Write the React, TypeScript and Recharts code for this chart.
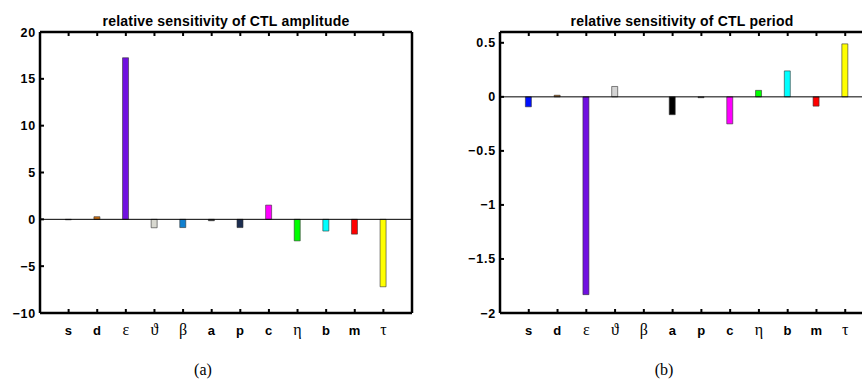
import { BarChart, Bar, XAxis, YAxis, Cell, ReferenceLine } from 'recharts';

const params = ['s', 'd', 'ε', 'ϑ', 'β', 'a', 'p', 'c', 'η', 'b', 'm', 'τ'];
const greek = ['ε', 'ϑ', 'β', 'η', 'τ'];

const amplitude = [-0.05, 0.28, 17.25, -0.9, -0.88, -0.15, -0.88, 1.52, -2.3, -1.25, -1.58, -7.2];
const period = [-0.092, 0.015, -1.83, 0.096, 0, -0.165, -0.008, -0.25, 0.06, 0.24, -0.086, 0.49];

const colorsA = ['#1a1a60', '#d07010', '#7010e0', '#d8d8d0', '#1080d0', '#202020', '#1c2e50', '#ff00ff', '#00ff00', '#00ffff', '#ff0000', '#ffff00'];
const colorsB = ['#0010ff', '#a05a10', '#7010e0', '#d4d4d4', '#1080d0', '#000000', '#404040', '#ff00ff', '#00ff00', '#00ffff', '#ff0000', '#ffff00'];

const ampTicks = [-10, -5, 0, 5, 10, 15, 20];
const perTicks = [-2, -1.5, -1, -0.5, 0, 0.5];

const sans = 'Liberation Sans, Arial, sans-serif';
const serif = 'Liberation Serif, Times New Roman, serif';

const fmt = (v: number) => (v < 0 ? '\u2212' + String(-v) : String(v));

function BottomTick(props: any) {
  const { x, y, payload } = props;
  const g = greek.includes(payload.value);
  return (
    <g>
      <line x1={x} x2={x} y1={y} y2={y - 4} stroke="#000" strokeWidth={2} />
      <text
        x={x}
        y={y + 22}
        textAnchor="middle"
        fontFamily={g ? serif : sans}
        fontWeight={g ? 'normal' : 'bold'}
        fontSize={g ? 16 : 13}
        letterSpacing={g ? 0 : 0.5}
        fill="#000"
      >
        {payload.value}
      </text>
    </g>
  );
}

function TopTick(props: any) {
  const { x, y } = props;
  return <line x1={x} x2={x} y1={y} y2={y + 4} stroke="#000" strokeWidth={2} />;
}

function LeftTick(props: any) {
  const { x, y, payload } = props;
  return (
    <g>
      <line x1={x} x2={x + 4} y1={y} y2={y} stroke="#000" strokeWidth={2} />
      <text x={x - 4} y={y + 4.5} textAnchor="end" fontFamily={sans} fontWeight="bold" fontSize={12.5} letterSpacing={0.8} fill="#000">
        {fmt(payload.value)}
      </text>
    </g>
  );
}

function RightTick(props: any) {
  const { x, y } = props;
  return <line x1={x} x2={x - 4} y1={y} y2={y} stroke="#000" strokeWidth={2} />;
}

function Panel({ values, colors, domain, ticks, width, margin, yWidth }: any) {
  const data = params.map((p, i) => ({ name: p, value: values[i] }));
  const plotW = width - margin.left - margin.right - yWidth - 1;
  const pad = plotW / 26;
  const axisLine = { stroke: '#000', strokeWidth: 2.5 };
  return (
    <BarChart width={width} height={379} data={data} margin={margin}>
      <XAxis
        dataKey="name"
        xAxisId="bottom"
        interval={0}
        padding={{ left: pad, right: pad }}
        tickSize={0}
        tickMargin={0}
        tickLine={false}
        tick={<BottomTick />}
        axisLine={axisLine}
        height={66}
      />
      <XAxis
        dataKey="name"
        xAxisId="top"
        orientation="top"
        interval={0}
        padding={{ left: pad, right: pad }}
        tickSize={0}
        tickMargin={0}
        tickLine={false}
        tick={<TopTick />}
        axisLine={axisLine}
        height={1}
      />
      <YAxis
        yAxisId="left"
        domain={domain}
        ticks={ticks}
        interval={0}
        tickSize={0}
        tickMargin={0}
        tickLine={false}
        tick={<LeftTick />}
        axisLine={axisLine}
        width={yWidth}
      />
      <YAxis
        yAxisId="right"
        orientation="right"
        domain={domain}
        ticks={ticks}
        interval={0}
        tickSize={0}
        tickMargin={0}
        tickLine={false}
        tick={<RightTick />}
        axisLine={axisLine}
        width={1}
      />
      <ReferenceLine y={0} xAxisId="bottom" yAxisId="left" stroke="#000" strokeWidth={1} />
      <Bar dataKey="value" xAxisId="bottom" yAxisId="left" barSize={6} stroke="#333" strokeWidth={0.6} isAnimationActive={false}>
        {data.map((d, i) => (
          <Cell key={d.name} fill={colors[i]} />
        ))}
      </Bar>
    </BarChart>
  );
}

const titleStyle: any = { position: 'absolute', top: 13, textAlign: 'center', fontFamily: sans, fontWeight: 'bold', fontSize: 14, letterSpacing: 0.2, lineHeight: '16px' };
const captionStyle: any = { position: 'absolute', top: 361, textAlign: 'center', fontFamily: serif, fontSize: 16, lineHeight: '18px' };

export default function App() {
  return (
    <div style={{ position: 'absolute', left: 0, top: 0, width: 862, height: 379, overflow: 'hidden', background: '#fff' }}>
      <div style={{ position: 'absolute', left: 0, top: 0 }}>
        <Panel
          values={amplitude}
          colors={colorsA}
          domain={[-10, 20]}
          ticks={ampTicks}
          width={431}
          margin={{ top: 31, right: 18, bottom: 0, left: 0 }}
          yWidth={40}
        />
      </div>
      <div style={{ position: 'absolute', left: 431, top: 0 }}>
        <Panel
          values={period}
          colors={colorsB}
          domain={[-2, 0.6]}
          ticks={perTicks}
          width={445}
          margin={{ top: 31, right: 1, bottom: 0, left: 0 }}
          yWidth={69}
        />
      </div>
      <div style={{ ...titleStyle, left: 40, width: 372 }}>relative sensitivity of CTL amplitude</div>
      <div style={{ ...titleStyle, left: 500, width: 364 }}>relative sensitivity of CTL period</div>
      <div style={{ ...captionStyle, left: 40, width: 326 }}>(a)</div>
      <div style={{ ...captionStyle, left: 500, width: 328 }}>(b)</div>
    </div>
  );
}
